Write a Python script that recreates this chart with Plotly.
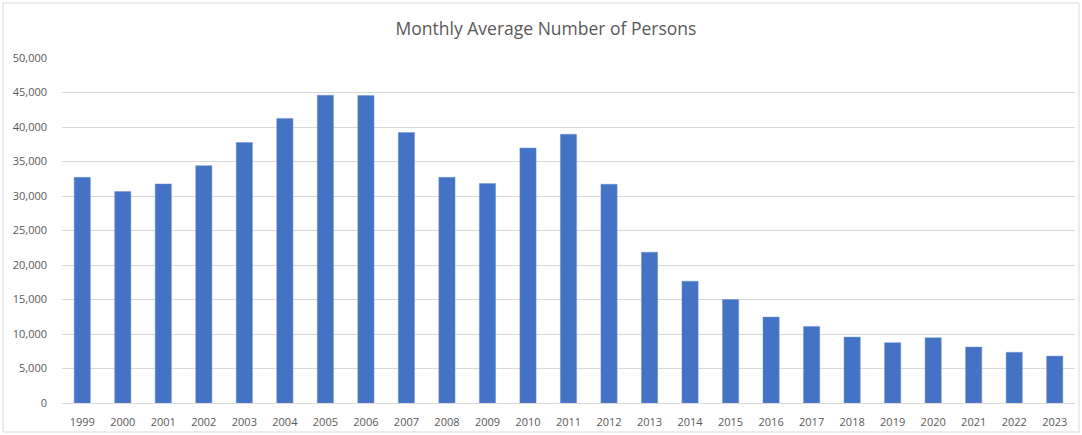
import plotly.graph_objects as go

years = [str(y) for y in range(1999, 2024)]
persons = [32700, 30650, 31750, 34400, 37750, 41250, 44600, 44550, 39200, 32700,
           31800, 36950, 38950, 31700, 21850, 17650, 15000, 12450, 11100, 9550,
           8750, 9450, 8100, 7350, 6800]
y_ticks = list(range(0, 50001, 5000))
y_tick_text = [f"{v:,}" for v in y_ticks]

fig = go.Figure(go.Bar(
    x=years, y=persons,
    marker=dict(color="#4472C4", line=dict(color="#6f93d6", width=0.5)),
    width=0.4,
))

L, R, T, B = 62, 7, 58, 32
W, H = 1082, 435
pw, ph = W - L - R, H - T - B

fig.update_layout(
    width=W, height=H,
    margin=dict(l=L, r=R, t=T, b=B, pad=0),
    paper_bgcolor="white", plot_bgcolor="white",
    font=dict(family="Open Sans, Noto Sans, sans-serif", size=11, color="#595959"),
    title=dict(text="Monthly Average Number of Persons", x=546 / W, xanchor="center",
               xref="container",
               y=1 - 29 / H, yanchor="middle",
               font=dict(size=17.5, color="#595959")),
    showlegend=False,
    bargap=0.6,
    shapes=[dict(type="rect", xref="paper", yref="paper",
                 x0=(3 - L) / pw, x1=(1079 - L) / pw,
                 y0=(H - B - 432) / ph, y1=(H - B - 3) / ph,
                 line=dict(color="#d9d9d9", width=1), layer="below")],
)
fig.update_xaxes(showgrid=False, showline=True, linecolor="#d9d9d9", linewidth=1,
                 automargin=False,
                 ticks="", ticklabelstandoff=9, tickfont=dict(size=11, color="#595959"))
fig.update_yaxes(range=[0, 50000], tickvals=y_ticks, ticktext=y_tick_text,
                 automargin=False,
                 showgrid=True, gridcolor="#d9d9d9", gridwidth=1, zeroline=False,
                 ticks="", ticklabelstandoff=14, tickfont=dict(size=11, color="#595959"))

fig.write_html("out.html", config={"displayModeBar": False, "responsive": False},
               post_script="document.body.style.margin='0';document.body.style.overflow='hidden';")
